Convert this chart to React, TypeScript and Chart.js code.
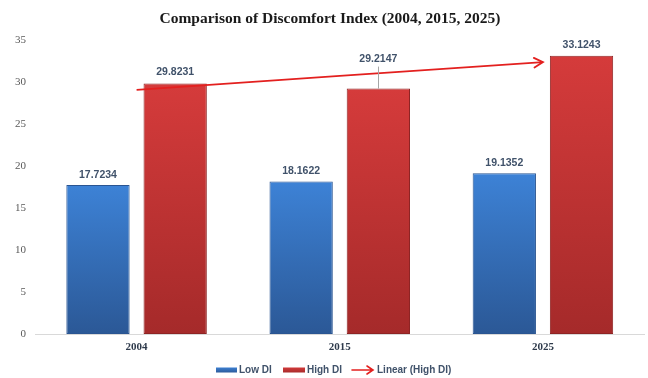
import React, { useEffect, useRef } from "react";
import { Chart, registerables } from "chart.js";

Chart.register(...registerables);

const titleText = "Comparison of Discomfort Index (2004, 2015, 2025)";
const years = ["2004", "2015", "2025"];
const lowDI = [17.7234, 18.1622, 19.1352];
const highDI = [29.8231, 29.2147, 33.1243];
const lowLabels = ["17.7234", "18.1622", "19.1352"];
const highLabels = ["29.8231", "29.2147", "33.1243"];
const legendNames = ["Low DI", "High DI", "Linear (High DI)"];
const yMin = 0;
const yMax = 35;
const yStep = 5;

// Least-squares linear trend of the High DI series (as in a spreadsheet "Linear" trendline)
function linearTrend(values: number[]): number[] {
  const n = values.length;
  const xs = values.map((_, i) => i + 1);
  const mx = xs.reduce((a, b) => a + b, 0) / n;
  const my = values.reduce((a, b) => a + b, 0) / n;
  let num = 0;
  let den = 0;
  for (let i = 0; i < n; i++) {
    num += (xs[i] - mx) * (values[i] - my);
    den += (xs[i] - mx) * (xs[i] - mx);
  }
  const slope = num / den;
  const icpt = my - slope * mx;
  return xs.map((x) => icpt + slope * x);
}
const trendHigh = linearTrend(highDI);

const BLUE_TOP = "#3d82d6";
const BLUE_BOT = "#2b5896";
const RED_TOP = "#d53b3b";
const RED_BOT = "#a52a2a";
const TREND = "#e3201f";
const LABEL_COLOR = "#40526a";

function barGradient(top: string, bot: string) {
  return (ctx: any) => {
    const chart = ctx.chart;
    const y = chart.scales?.y;
    if (!y || ctx.type !== "data") return top;
    const v = ctx.parsed?.y ?? ctx.raw;
    const y0 = y.getPixelForValue(v);
    const y1 = y.getPixelForValue(0);
    if (!isFinite(y0) || !isFinite(y1) || y0 === y1) return top;
    const g = chart.ctx.createLinearGradient(0, y0, 0, y1);
    g.addColorStop(0, top);
    g.addColorStop(1, bot);
    return g;
  };
}

const decorPlugin = {
  id: "decor",
  afterDatasetsDraw(chart: any) {
    const ctx = chart.ctx;
    ctx.save();
    // data labels
    ctx.font = "bold 10.5px 'Liberation Sans', Arial, sans-serif";
    ctx.fillStyle = LABEL_COLOR;
    ctx.textAlign = "center";
    ctx.textBaseline = "middle";
    const lowMeta = chart.getDatasetMeta(0);
    lowMeta.data.forEach((el: any, i: number) => {
      ctx.fillText(lowLabels[i], el.x, el.y - 10);
    });
    const highMeta = chart.getDatasetMeta(1);
    highMeta.data.forEach((el: any, i: number) => {
      if (i === 1) {
        const ly = el.y - 29;
        ctx.fillText(highLabels[i], el.x, ly);
        ctx.strokeStyle = "#a6a6a6";
        ctx.lineWidth = 1;
        ctx.beginPath();
        ctx.moveTo(Math.round(el.x) + 0.5, ly + 7);
        ctx.lineTo(Math.round(el.x) + 0.5, el.y);
        ctx.stroke();
      } else {
        ctx.fillText(highLabels[i], el.x, el.y - 11);
      }
    });
    // arrow head on trend line
    const tMeta = chart.getDatasetMeta(2);
    const pts = tMeta.data;
    if (pts.length > 1) {
      const a = pts[0];
      const b = pts[pts.length - 1];
      const ang = Math.atan2(b.y - a.y, b.x - a.x);
      const len = 10;
      ctx.strokeStyle = TREND;
      ctx.lineWidth = 1.8;
      ctx.lineCap = "round";
      ctx.beginPath();
      ctx.moveTo(b.x - len * Math.cos(ang - 0.5), b.y - len * Math.sin(ang - 0.5));
      ctx.lineTo(b.x, b.y);
      ctx.lineTo(b.x - len * Math.cos(ang + 0.5), b.y - len * Math.sin(ang + 0.5));
      ctx.stroke();
    }
    ctx.restore();
  },
  afterDraw(chart: any) {
    const ctx = chart.ctx;
    ctx.save();
    // title
    ctx.font = "bold 15.5px 'Liberation Serif', 'Times New Roman', serif";
    ctx.fillStyle = "#1a1a1a";
    ctx.textAlign = "center";
    ctx.textBaseline = "middle";
    ctx.fillText(titleText, 330, 19);
    // legend
    const ly = 370;
    ctx.font = "bold 10px 'Liberation Sans', Arial, sans-serif";
    ctx.textAlign = "left";
    ctx.fillStyle = LABEL_COLOR;
    // Low DI
    let g = ctx.createLinearGradient(0, ly - 3, 0, ly + 3);
    g.addColorStop(0, BLUE_TOP);
    g.addColorStop(1, BLUE_BOT);
    ctx.fillStyle = g;
    ctx.fillRect(216, ly - 2.5, 21, 5);
    ctx.fillStyle = LABEL_COLOR;
    ctx.fillText(legendNames[0], 239, ly);
    // High DI
    g = ctx.createLinearGradient(0, ly - 3, 0, ly + 3);
    g.addColorStop(0, RED_TOP);
    g.addColorStop(1, RED_BOT);
    ctx.fillStyle = g;
    ctx.fillRect(283, ly - 2.5, 22, 5);
    ctx.fillStyle = LABEL_COLOR;
    ctx.fillText(legendNames[1], 307, ly);
    // Linear trend arrow
    ctx.strokeStyle = TREND;
    ctx.lineWidth = 1.6;
    ctx.lineCap = "round";
    ctx.beginPath();
    ctx.moveTo(352, ly);
    ctx.lineTo(373, ly);
    ctx.moveTo(367, ly - 4);
    ctx.lineTo(373, ly);
    ctx.lineTo(367, ly + 4);
    ctx.stroke();
    ctx.fillStyle = LABEL_COLOR;
    ctx.fillText(legendNames[2], 377, ly);
    ctx.restore();
  },
};

export default function App() {
  const ref = useRef<HTMLCanvasElement | null>(null);
  useEffect(() => {
    if (!ref.current) return;
    const chart = new Chart(ref.current, {
      type: "bar",
      data: {
        labels: years,
        datasets: [
          {
            label: legendNames[0],
            data: lowDI,
            backgroundColor: barGradient(BLUE_TOP, BLUE_BOT),
            borderColor: "#2a5592",
            borderWidth: 1,
            borderSkipped: false,
            categoryPercentage: 0.76,
            barPercentage: 0.82,
            order: 1,
          },
          {
            label: legendNames[1],
            data: highDI,
            backgroundColor: barGradient(RED_TOP, RED_BOT),
            borderColor: "#8e2424",
            borderWidth: 1,
            borderSkipped: false,
            categoryPercentage: 0.76,
            barPercentage: 0.82,
            order: 1,
          },
          {
            type: "line",
            label: legendNames[2],
            data: trendHigh,
            borderColor: TREND,
            borderWidth: 1.8,
            pointRadius: 0,
            fill: false,
            order: 0,
          } as any,
        ],
      },
      options: {
        responsive: false,
        animation: false,
        layout: { padding: { top: 40, right: 3.5, left: 0, bottom: 0 } },
        plugins: {
          legend: { display: false },
          title: { display: false },
          tooltip: { enabled: false },
        },
        scales: {
          x: {
            grid: { display: false, drawTicks: false },
            border: { display: true, color: "#d9d9d9", width: 1 },
            ticks: {
              color: "#2f3b4c",
              padding: 7,
              font: { family: "'Liberation Serif', 'Times New Roman', serif", size: 11, weight: "bold" },
            },
            afterFit: (s: any) => {
              s.height = 44;
            },
          },
          y: {
            min: yMin,
            max: yMax,
            grid: { display: false, drawTicks: false },
            border: { display: false },
            ticks: {
              stepSize: yStep,
              color: "#595959",
              padding: 9,
              font: { family: "'Liberation Serif', 'Times New Roman', serif", size: 11 },
            },
            afterFit: (s: any) => {
              s.width = 35;
            },
          },
        },
      },
      plugins: [decorPlugin],
    });
    return () => chart.destroy();
  }, []);
  return (
    <div style={{ position: "absolute", left: 0, top: 0, width: 648, height: 378, background: "#ffffff" }}>
      <canvas ref={ref} width={648} height={378} />
    </div>
  );
}
